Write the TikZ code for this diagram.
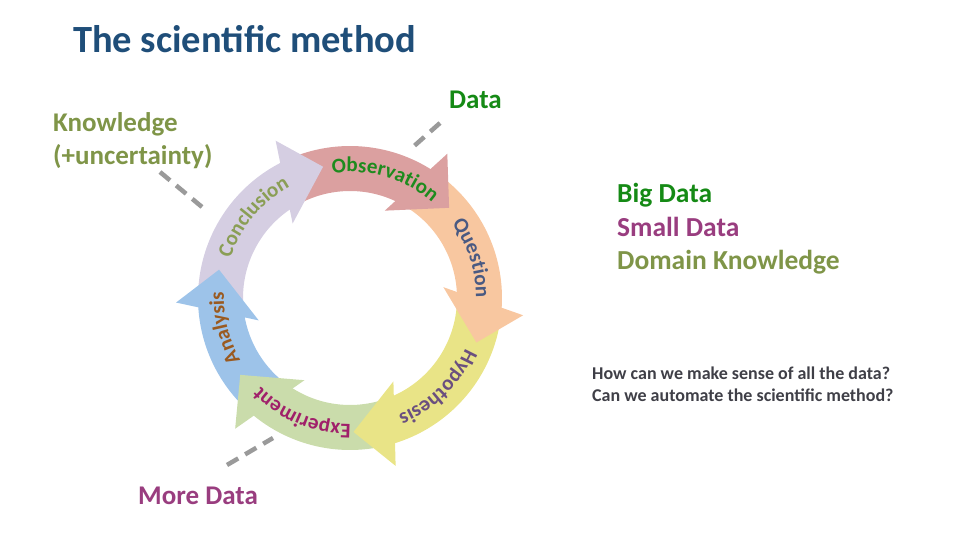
\documentclass[tikz,border=0pt]{standalone}
\usepackage{fontspec}
\setmainfont{Carlito}
\usetikzlibrary{decorations.text}

\definecolor{titleblue}{HTML}{1F4E79}
\definecolor{concfill}{HTML}{D5CEE2}
\definecolor{obsfill}{HTML}{DBA0A0}
\definecolor{quesfill}{HTML}{F8C7A0}
\definecolor{hypfill}{HTML}{E9E487}
\definecolor{expfill}{HTML}{CADCAB}
\definecolor{anafill}{HTML}{9DC3E9}
\definecolor{obstext}{HTML}{1E8B1E}
\definecolor{questext}{HTML}{4A5A82}
\definecolor{hyptext}{HTML}{6A4F7F}
\definecolor{exptext}{HTML}{A0206A}
\definecolor{anatext}{HTML}{9A5A20}
\definecolor{conctext}{HTML}{8A9E55}
\definecolor{datagreen}{HTML}{158A15}
\definecolor{knowolive}{HTML}{7F9548}
\definecolor{moremagenta}{HTML}{993D7F}
\definecolor{asktext}{HTML}{3F3F47}
\definecolor{leadgray}{HTML}{9A9A9A}

\begin{document}
\begin{tikzpicture}[x=1pt,y=1pt,
    lbl/.style={anchor=base west, inner sep=0pt, font=\bfseries\fontsize{27}{33}\selectfont},
    leader/.style={draw=leadgray, line width=4.5pt, dash pattern=on 13pt off 8pt},
    ringtext/.style={decorate, decoration={text along path, text align=center}}]
    \useasboundingbox (0,0) rectangle (960,540);
    \def\ro{152}
    \def\ri{107}
    % ---- title ----
    \node[lbl, text=titleblue, font=\bfseries\fontsize{38.5}{40}\selectfont] (title) at (73,487) {The scientific method};
    % ---- cycle ----
    \begin{scope}[shift={(350,242)}]
    \foreach \ta/\tb/\col in {167.8/101.6/concfill, 101.6/42.3/obsfill, 42.3/-19.4/quesfill,
                              -19.4/-88.5/hypfill, -88.5/-145/expfill, -145/-192.2/anafill} {
        \fill[\col] (\ta+10:\ro) arc[start angle=\ta+10, end angle=\tb+15, radius=\ro]
            -- (\tb+21:\ri) arc[start angle=\tb+21, end angle=\ta+20, radius=\ri] -- cycle;
    }
    \foreach \tb/\col in {101.6/concfill, 42.3/obsfill, -19.4/quesfill,
                          -88.5/hypfill, -145/expfill, -192.2/anafill} {
        \fill[\col] (\tb+13.7:174) -- (\tb:134) -- (\tb+26:94) -- cycle;
    }
    \path[ringtext, decoration={text={|\bfseries\fontsize{21}{21}\selectfont\color{obstext}|Observation}}]
        (133.7:126) arc[start angle=133.7, end angle=13.7, radius=126];
    \path[ringtext, decoration={text={|\bfseries\fontsize{21}{21}\selectfont\color{questext}|Question}}]
        (78:126) arc[start angle=78, end angle=-42, radius=126];
    \path[ringtext, decoration={text={|\bfseries\fontsize{21}{21}\selectfont\color{hyptext}|Hypothesis}}]
        (14.5:126) arc[start angle=14.5, end angle=-105.5, radius=126];
    \path[ringtext, decoration={text={|\bfseries\fontsize{21}{21}\selectfont\color{exptext}|Experiment}}]
        (-52.5:126) arc[start angle=-52.5, end angle=-172.5, radius=126];
    \path[ringtext, decoration={text={|\bfseries\fontsize{21}{21}\selectfont\color{anatext}|Analysis}}]
        (253.4:126) arc[start angle=253.4, end angle=133.4, radius=126];
    \path[ringtext, decoration={text={|\bfseries\fontsize{21}{21}\selectfont\color{conctext}|Conclusion}}]
        (200:126) arc[start angle=200, end angle=80, radius=126];
    \end{scope}
    % ---- labels ----
    \node[lbl, text=datagreen] (data) at (449,431) {Data};
    \node[lbl, text=knowolive, align=left] (knowledge) at (53,375) {Knowledge\\(+uncertainty)};
    \node[lbl, font=\bfseries\fontsize{27.5}{33.5}\selectfont, align=left] (sources) at (617,270)
        {\textcolor{datagreen}{Big Data}\\\textcolor{moremagenta}{Small Data}\\\textcolor{knowolive}{Domain Knowledge}};
    \node[lbl, text=asktext, font=\bfseries\fontsize{18}{22}\selectfont, align=left] (questions) at (592,138)
        {How can we make sense of all the data?\\Can we automate the scientific method?};
    \node[lbl, text=moremagenta] (moredata) at (138,35) {More Data};
    % ---- leaders ----
    \coordinate (datatail) at (440,417);
    \coordinate (datahead) at (413,393);
    \coordinate (knowtail) at (160,368);
    \coordinate (knowhead) at (202,333);
    \coordinate (moretail) at (227,75);
    \coordinate (morehead) at (273,102);
    \draw[leader] (datatail) -- (datahead);
    \draw[leader] (knowtail) -- (knowhead);
    \draw[leader] (moretail) -- (morehead);
\end{tikzpicture}
\end{document}
